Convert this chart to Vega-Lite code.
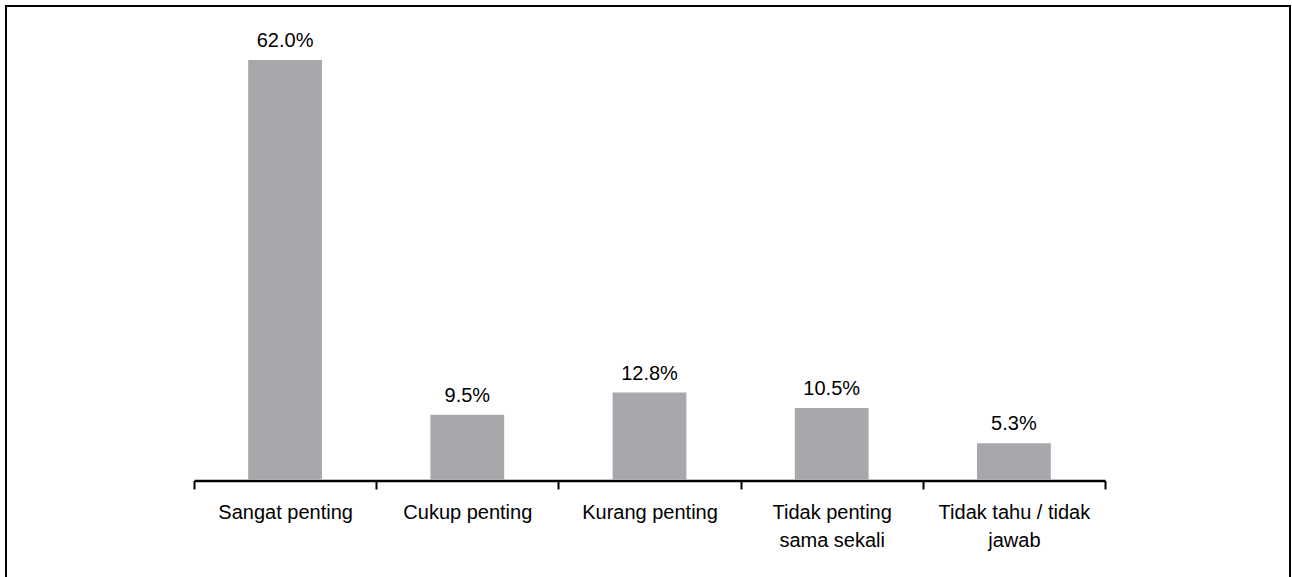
{
  "$schema": "https://vega.github.io/schema/vega-lite/v6.json",
  "width": 1284,
  "height": 600,
  "padding": {"left": 6, "top": 6, "right": 2, "bottom": 0},
  "autosize": {"type": "none"},
  "background": "white",
  "config": {
    "view": {"stroke": "black", "strokeWidth": 2},
    "font": "Liberation Sans"
  },
  "data": {
    "values": [
      {"kategori": "Sangat penting", "nilai": 0.62},
      {"kategori": "Cukup penting", "nilai": 0.095},
      {"kategori": "Kurang penting", "nilai": 0.128},
      {"kategori": "Tidak penting sama sekali", "nilai": 0.105},
      {"kategori": "Tidak tahu / tidak jawab", "nilai": 0.053}
    ]
  },
  "encoding": {
    "x": {
      "field": "kategori",
      "type": "nominal",
      "sort": null,
      "scale": {"paddingInner": 0, "paddingOuter": 0, "range": [188, 1099]},
      "axis": {
        "title": null,
        "orient": "bottom",
        "offset": -125.5,
        "domain": true,
        "domainColor": "black",
        "domainWidth": 2.5,
        "ticks": true,
        "tickBand": "extent",
        "tickSize": 8.5,
        "tickWidth": 2,
        "tickColor": "black",
        "labelAngle": 0,
        "labelFont": "Liberation Sans",
        "labelFontSize": 20,
        "labelColor": "black",
        "labelPadding": 13.5,
        "labelLineHeight": 28,
        "labelLimit": 0,
        "labelExpr": "datum.value == 'Tidak penting sama sekali' ? ['Tidak penting', 'sama sekali'] : datum.value == 'Tidak tahu / tidak jawab' ? ['Tidak tahu / tidak', 'jawab'] : datum.value"
      }
    }
  },
  "layer": [
    {
      "mark": {"type": "bar", "width": {"band": 0.405}, "color": "#a7a8ac"},
      "encoding": {
        "y": {
          "field": "nilai",
          "type": "quantitative",
          "scale": {"domain": [-0.1879, 0.6999], "nice": false, "zero": false},
          "axis": null
        },
        "y2": {"datum": -0.001}
      }
    },
    {
      "mark": {"type": "text", "baseline": "alphabetic", "dy": -13, "fontSize": 20, "font": "Liberation Sans", "color": "black"},
      "encoding": {
        "y": {"field": "nilai", "type": "quantitative"},
        "text": {"field": "nilai", "type": "quantitative", "format": ".1%"}
      }
    }
  ]
}
